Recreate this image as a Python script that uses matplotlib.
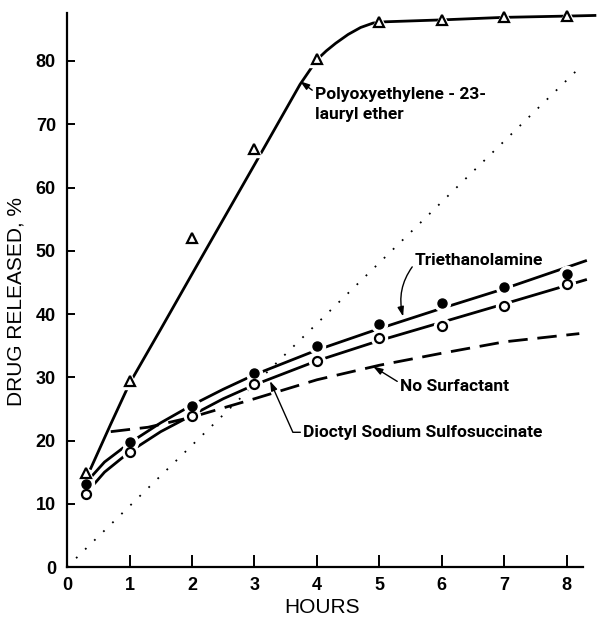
import matplotlib
matplotlib.use("Agg")
import matplotlib.pyplot as plt

# measured points
hours = [0.3, 1, 2, 3, 4, 5, 6, 7, 8]
poe_pts = [14.9, 29.4, 52.0, 66.1, 80.3, 86.2, 86.5, 87.0, 87.1]
tea_pts = [13.1, 19.8, 25.5, 30.6, 34.9, 38.4, 41.7, 44.3, 46.3]
dss_pts = [11.5, 18.2, 23.9, 28.9, 32.5, 36.2, 38.1, 41.3, 44.7]

# hand-drawn curves
poe_cx = [0.38, 0.7, 1.0, 1.5, 2.0, 3.0, 3.73, 4.0, 4.15, 4.3, 4.5, 4.7, 4.9, 5.1, 6.0, 7.0, 8.0, 8.45]
poe_cy = [15.6, 22.6, 29.0, 37.6, 46.3, 63.6, 76.3, 80.2, 81.6, 82.8, 84.2, 85.3, 86.0, 86.2, 86.5, 86.9, 87.1, 87.2]
tea_cx = [0.3, 0.6, 1.0, 1.5, 2.0, 2.5, 3.0, 4.0, 5.0, 6.0, 7.0, 8.3]
tea_cy = [13.3, 16.6, 19.6, 22.8, 25.6, 28.1, 30.4, 34.3, 37.7, 40.9, 44.0, 48.4]
dss_cx = [0.3, 0.6, 1.0, 1.5, 2.0, 2.5, 3.0, 4.0, 5.0, 6.0, 7.0, 8.3]
dss_cy = [11.6, 15.0, 18.2, 21.4, 24.0, 26.6, 28.8, 32.6, 35.8, 38.7, 41.6, 45.4]
nos_cx = [0.7, 1.3, 2.0, 3.0, 4.0, 5.0, 6.0, 7.0, 8.2]
nos_cy = [21.4, 22.1, 23.7, 26.6, 29.6, 31.9, 33.8, 35.6, 36.9]
ref_x = [0, 8.2]
ref_y = [0, 78.9]

xticks = [0, 1, 2, 3, 4, 5, 6, 7, 8]
yticks = [0, 10, 20, 30, 40, 50, 60, 70, 80]

tick_font = ['Liberation Sans', 'DejaVu Sans']
note_font = ['Roboto', 'DejaVu Sans']

fig = plt.figure(figsize=(5.99, 6.18), dpi=100)
ax = fig.add_axes([0.1119, 0.0825, 0.8865, 0.9058])

lw = 2.0
ax.plot(ref_x, ref_y, color='k', lw=1.3, ls=(0, (1, 6)), zorder=1)
ax.plot(nos_cx, nos_cy, color='k', lw=lw, ls=(0, (7, 3.5)), zorder=1)
ax.plot(poe_cx, poe_cy, color='k', lw=lw, zorder=2, clip_on=False)
ax.plot(tea_cx, tea_cy, color='k', lw=lw, zorder=2)
ax.plot(dss_cx, dss_cy, color='k', lw=lw, zorder=2)

# white halos break the lines around the symbols
for pts, m, ms in [(poe_pts, '^', 7), (tea_pts, 'o', 6.5), (dss_pts, 'o', 6.5)]:
    ax.plot(hours, pts, ls='none', marker=m, ms=ms + 5, mfc='white', mec='white',
            zorder=3, clip_on=False)
ax.plot(hours, poe_pts, ls='none', marker='^', ms=7, mfc='white', mec='k', mew=1.6,
        zorder=4, clip_on=False)
ax.plot(hours, tea_pts, ls='none', marker='o', ms=6.5, mfc='k', mec='k', zorder=4)
ax.plot(hours, dss_pts, ls='none', marker='o', ms=6.5, mfc='white', mec='k', mew=1.6, zorder=4)

arrow = dict(arrowstyle='-|>,head_length=0.45,head_width=0.15', color='k', lw=1.0,
             shrinkA=0, shrinkB=0)
note = dict(fontsize=12.5, family=note_font, fontweight='bold')
ax.annotate('Polyoxyethylene - 23-\nlauryl ether', xy=(3.73, 76.8), xytext=(3.97, 75.9),
            va='top', linespacing=1.45, arrowprops=dict(arrow, relpos=(0, 0.85)), **note)
ax.annotate('Triethanolamine', xy=(5.38, 39.6), xytext=(5.57, 48.5), va='center',
            arrowprops=dict(arrow, relpos=(0, 0.3), connectionstyle='arc3,rad=0.25'), **note)
ax.annotate('No Surfactant', xy=(4.9, 31.7), xytext=(5.33, 28.6), va='center',
            arrowprops=dict(arrow, relpos=(0, 0.7)), **note)
ax.annotate('Dioctyl Sodium Sulfosuccinate', xy=(3.25, 29.4), xytext=(3.78, 21.3), va='center',
            arrowprops=dict(arrow, relpos=(0, 0.5),
                            connectionstyle='angle,angleA=0,angleB=114,rad=0'), **note)

ax.set_xlim(0, 8.5)
ax.set_ylim(0, 88.5)
ax.spines['top'].set_visible(False)
ax.spines['right'].set_visible(False)
ax.spines['left'].set_linewidth(1.6)
ax.spines['bottom'].set_linewidth(1.6)
ax.spines['bottom'].set_bounds(0, 8.26)
ax.spines['left'].set_bounds(0, 87.6)

ax.set_xticks(xticks)
ax.set_yticks(yticks)
ax.tick_params(axis='x', direction='in', length=9, width=1.4, pad=7)
ax.tick_params(axis='y', direction='in', length=6, width=1.4, pad=8)
for lab in ax.get_xticklabels() + ax.get_yticklabels():
    lab.set_family(tick_font)
    lab.set_fontsize(13)
    lab.set_fontweight('bold')

ax.set_xlabel('HOURS', fontsize=15, family=tick_font)
ax.set_ylabel('DRUG RELEASED, %', fontsize=15, family=tick_font)
ax.xaxis.set_label_coords(0.481, -0.056)
ax.yaxis.set_label_coords(-0.079, 0.474)

fig.savefig('out.png', dpi=100)
